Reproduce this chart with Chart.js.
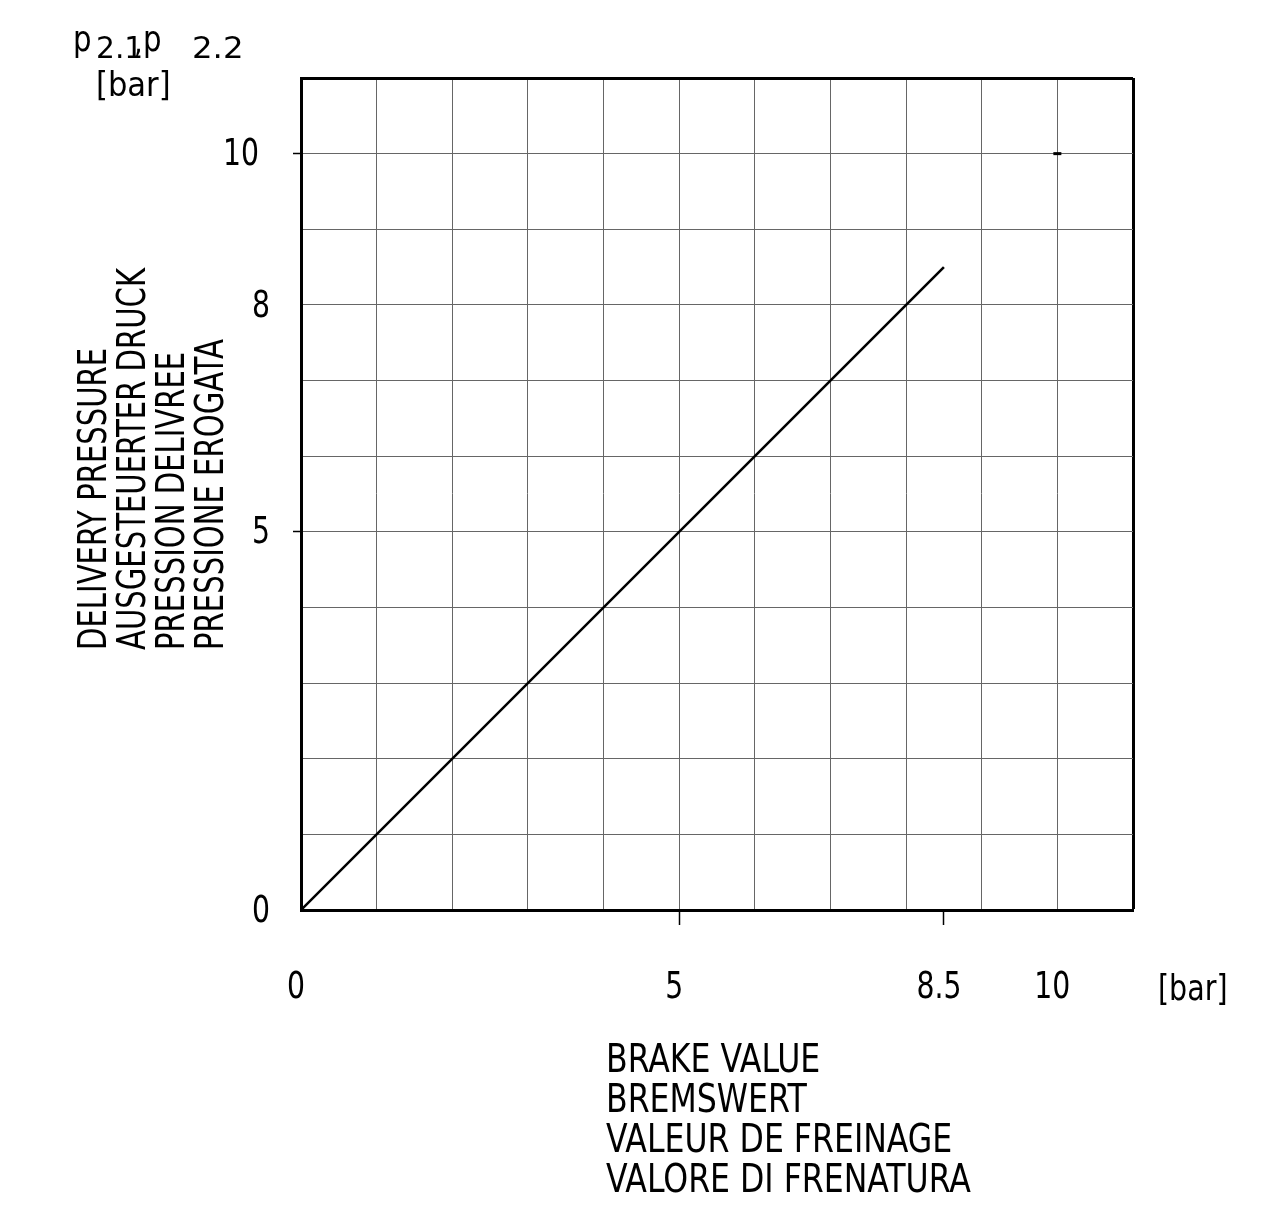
<!DOCTYPE html>
<html>
<head>
<meta charset="utf-8">
<script src="https://cdn.jsdelivr.net/npm/chart.js@4.4.1/dist/chart.umd.min.js"></script>
<style>
  html, body { margin: 0; padding: 0; background: #fff; }
  #wrap { width: 1273px; height: 1213px; }
</style>
</head>
<body>
<div id="wrap"><canvas id="brake-chart" width="1273" height="1213"></canvas></div>
<script>
// curve: delivery pressure follows brake value up to 8.5 bar
const brakeValue = [0, 8.5];
const deliveryPressure = [0, 8.5];
// small mark at 10/10
const markX = [10];
const markY = [10];

// grid every 1 bar, 0..11
const gridValues = [0, 1, 2, 3, 4, 5, 6, 7, 8, 9, 10, 11];
const xTickValues = [0, 5, 8.5, 10];
const xTickLabels = ['0', '5', '8.5', '10'];
const yTickValues = [0, 5, 8, 10];
const yTickLabels = ['0', '5', '8', '10'];
const xTickMarks = [5, 8.5];
const yTickMarks = [5, 10];

const yTitle = ['DELIVERY PRESSURE', 'AUSGESTEUERTER DRUCK', 'PRESSION DELIVREE', 'PRESSIONE EROGATA'];
const xTitle = ['BRAKE VALUE', 'BREMSWERT', 'VALEUR DE FREINAGE', 'VALORE DI FRENATURA'];

const FONT = "'DejaVu Sans Condensed', 'Liberation Sans Narrow', sans-serif";

function mergedTicks(labelVals) {
    const all = gridValues.concat(labelVals.filter(v => !gridValues.includes(v)));
    return all.sort((a, b) => a - b).map(v => ({ value: v }));
}

function gridColor(ctx) {
    const v = ctx.tick.value;
    if (!Number.isInteger(v)) return 'rgba(0,0,0,0)';
    if (v === 11) return '#000';
    return '#666';
}

function gridWidth(ctx) {
    return ctx.tick.value === 11 ? 3 : 1;
}

// narrow CAD-like text: squeeze horizontally
function cadText(ctx, text, x, y, size, sx, align) {
    ctx.save();
    ctx.translate(x, y);
    ctx.scale(sx, 1);
    ctx.font = size + 'px ' + FONT;
    ctx.textAlign = align || 'left';
    ctx.fillText(text, 0, 0);
    ctx.restore();
}

const textPlugin = {
    id: 'cadText',
    afterDraw(chart) {
        const ctx = chart.ctx;
        const xs = chart.scales.x, ys = chart.scales.y;
        ctx.save();
        ctx.fillStyle = '#000';
        ctx.textBaseline = 'middle';

        // tick labels placed by the scales
        xTickValues.forEach((v, i) => {
            cadText(ctx, xTickLabels[i], xs.getPixelForValue(v) - 5, 988, 37, 0.85, 'center');
        });
        yTickValues.forEach((v, i) => {
            const dx = v === 10 ? 241 : 261;
            cadText(ctx, yTickLabels[i], dx, ys.getPixelForValue(v) + 2, 37, 0.85, 'center');
        });

        ctx.textBaseline = 'alphabetic';

        // vertical axis title, read bottom to top
        yTitle.forEach((t, i) => {
            ctx.save();
            ctx.translate(106 + i * 39, 650);
            ctx.rotate(-Math.PI / 2);
            ctx.scale(0.83, 1);
            ctx.font = '39px ' + FONT;
            ctx.textAlign = 'left';
            ctx.fillText(t, 0, 0);
            ctx.restore();
        });

        // horizontal axis title
        xTitle.forEach((t, i) => cadText(ctx, t, 606, 1072 + i * 40, 39, 0.9, 'left'));

        // units
        cadText(ctx, 'p', 73, 51, 36, 0.9, 'left');
        cadText(ctx, '2.1', 96, 58, 30, 1.1, 'left');
        cadText(ctx, ',', 134, 52, 30, 1, 'left');
        cadText(ctx, 'p', 143, 51, 36, 0.9, 'left');
        cadText(ctx, '2.2', 192, 58, 30, 1.2, 'left');
        cadText(ctx, '[bar]', 96, 96, 34, 1.0, 'left');
        cadText(ctx, '[bar]', 1158, 1000, 36, 0.88, 'left');
        ctx.restore();
    }
};

new Chart(document.getElementById('brake-chart').getContext('2d'), {
    type: 'scatter',
    data: {
        datasets: [{
            data: brakeValue.map((x, i) => ({ x: x, y: deliveryPressure[i] })),
            showLine: true,
            borderColor: '#000',
            borderWidth: 2.5,
            pointRadius: 0
        }, {
            data: markX.map((x, i) => ({ x: x, y: markY[i] })),
            pointStyle: 'line',
            pointRadius: 4,
            borderColor: '#000',
            borderWidth: 3
        }]
    },
    options: {
        responsive: false,
        animation: false,
        layout: { padding: { top: 78, right: 140, left: 0, bottom: 0 } },
        plugins: { legend: { display: false }, tooltip: { enabled: false } },
        scales: {
            x: {
                type: 'linear',
                min: 0,
                max: 11,
                afterBuildTicks: s => { s.ticks = mergedTicks(xTickValues); },
                afterFit: s => { s.height = 303; },
                border: { display: true, color: '#000', width: 3 },
                grid: {
                    color: gridColor,
                    lineWidth: gridWidth,
                    drawTicks: true,
                    tickLength: 15,
                    tickWidth: 1.5,
                    tickColor: ctx => xTickMarks.includes(ctx.tick.value) ? '#000' : 'rgba(0,0,0,0)'
                },
                ticks: { display: false, autoSkip: false }
            },
            y: {
                type: 'linear',
                min: 0,
                max: 11,
                afterBuildTicks: s => { s.ticks = mergedTicks(yTickValues); },
                afterFit: s => { s.width = 301; },
                border: { display: true, color: '#000', width: 3 },
                grid: {
                    color: gridColor,
                    lineWidth: gridWidth,
                    drawTicks: true,
                    tickLength: 8,
                    tickWidth: 1.5,
                    tickColor: ctx => yTickMarks.includes(ctx.tick.value) ? '#000' : 'rgba(0,0,0,0)'
                },
                ticks: { display: false, autoSkip: false }
            }
        }
    },
    plugins: [textPlugin]
});
</script>
</body>
</html>
